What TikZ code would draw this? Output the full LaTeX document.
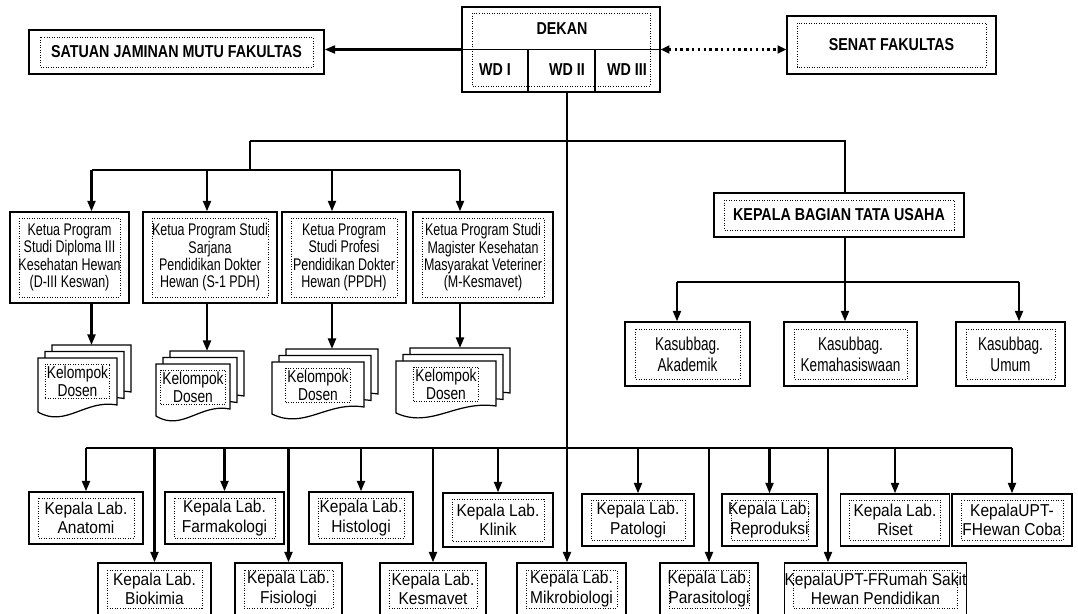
\documentclass[tikz,border=0pt]{standalone}
\usepackage{fontspec}
\setmainfont{Liberation Sans}
\newfontfamily\labfont[FakeStretch=0.9]{Liberation Sans}
\newfontfamily\progfont[FakeStretch=0.74]{Liberation Sans}
\newfontfamily\subfont[FakeStretch=0.73]{Liberation Sans}
\newfontfamily\docfont[FakeStretch=0.8]{Liberation Sans}
\newfontfamily\headfont[FakeStretch=0.83]{Liberation Sans}
\usetikzlibrary{arrows.meta,calc}

\tikzset{
  kotak/.style 2 args={draw, line width=0.7pt, fill=white, inner sep=0pt, align=center,
    minimum width=#1*0.02cm, minimum height=#2*0.02cm},
  bingkai/.style 2 args={path picture={\draw[densely dotted, line width=0.45pt]
    ([xshift=#1*0.02cm, yshift=-#2*0.02cm]path picture bounding box.north west) rectangle
    ([xshift=-#1*0.02cm, yshift=#2*0.02cm]path picture bounding box.south east);}},
  judul/.style={font=\headfont\bfseries\fontsize{9.8}{11}\selectfont},
  prodi/.style={font=\progfont\fontsize{9.6}{9.9}\selectfont},
  sub/.style={font=\subfont\fontsize{10.6}{11.9}\selectfont},
  lab/.style={font=\labfont\fontsize{9.8}{10.9}\selectfont},
  kelompok/.style={draw, densely dotted, line width=0.45pt, inner sep=1pt, align=center,
    font=\docfont\fontsize{9.8}{10.2}\selectfont},
  halaman/.style={draw, fill=white, line width=0.7pt},
  jalur/.style={line width=1.3pt},
  panah/.style={line width=1.3pt, -{Triangle[length=6pt,width=4.5pt]}},
  dua/.style={line width=1.3pt, dotted, {Triangle[length=5pt,width=4.5pt]}-{Triangle[length=5pt,width=4.5pt]}}
}

% tumpukan dokumen: nama, x, y, lebar, tinggi
\newcommand{\tumpukan}[5]{%
  \foreach \k in {2,1,0}{%
    \begin{scope}[shift={({7*\k},{-6.5*\k})}]
      \filldraw[halaman] (#2,#3) -- ({#2+#4},#3) -- ({#2+#4},{#3+#5-7})
        .. controls ({#2+0.6*#4},{#3+#5-13}) and ({#2+0.35*#4},{#3+#5+16}) .. (#2,{#3+#5}) -- cycle;
    \end{scope}
  }
  \coordinate (#1-atas) at ({#2+14+#4/2},{#3-13});
  \node[kelompok] (#1) at ({#2+#4/2},{#3+23}) {Kelompok\\Dosen};
}

\begin{document}
\begin{tikzpicture}[x=0.02cm,y=-0.02cm]
\useasboundingbox (0,0) rectangle (1078,613);

% Pimpinan
\node[kotak={295}{44}, bingkai={11}{7}, judul] (satuan) at (176.5,52) {SATUAN JAMINAN MUTU FAKULTAS};
\node[kotak={198}{85}, bingkai={10}{6}] (dekan) at (561,49.5) {};
\draw[line width=0.7pt] (dekan.west) -- (dekan.east);
\draw[line width=0.7pt] (528,49.5) -- (528,92);
\draw[line width=0.7pt] (595,49.5) -- (595,92);
\node[judul] (dk) at (562,29) {DEKAN};
\node[judul] (wd1) at (495,70) {WD I};
\node[judul] (wd2) at (567,70) {WD II};
\node[judul] (wd3) at (627,70) {WD III};
\node[kotak={209}{58}, bingkai={10}{7}, judul] (senat) at (891.5,45) {SENAT FAKULTAS};

\draw[panah] (dekan.west) -- (dekan.west -| satuan.east);
\draw[dua] (dekan.east) -- (dekan.east -| senat.west);

% Program studi
\node[kotak={119}{91}, bingkai={9}{6}, prodi] (prodi1) at (69.5,257.5) {Ketua Program\\Studi Diploma III\\Kesehatan Hewan\\(D-III Keswan)};
\node[kotak={134}{91}, bingkai={9}{6}, prodi] (prodi2) at (210,257.5) {Ketua Program Studi\\Sarjana\\Pendidikan Dokter\\Hewan (S-1 PDH)};
\node[kotak={124}{91}, bingkai={9}{6}, prodi] (prodi3) at (344,257.5) {Ketua Program\\Studi Profesi\\Pendidikan Dokter\\Hewan (PPDH)};
\node[kotak={140}{91}, bingkai={9}{6}, prodi] (prodi4) at (483,257.5) {Ketua Program Studi\\Magister Kesehatan\\Masyarakat Veteriner\\(M-Kesmavet)};

% Kelompok dosen
\tumpukan{dosen1}{38}{358}{79}{54}
\tumpukan{dosen2}{156}{364}{74}{52}
\tumpukan{dosen3}{272}{362}{92}{52}
\tumpukan{dosen4}{396}{361}{100}{52}

\draw[panah] (prodi1.south -| dosen1-atas) -- (dosen1-atas);
\draw[panah] (prodi2.south -| dosen2-atas) -- (dosen2-atas);
\draw[panah] (prodi3.south -| dosen3-atas) -- (dosen3-atas);
\draw[panah] (prodi4.south -| dosen4-atas) -- (dosen4-atas);

% Tata usaha
\node[kotak={250}{44}, bingkai={10}{7}, judul] (kbtu) at (839,215) {KEPALA BAGIAN TATA USAHA};
\node[kotak={125}{64}, bingkai={10}{7}, sub] (akademik) at (687.5,354) {Kasubbag.\\Akademik};
\node[kotak={133}{64}, bingkai={10}{7}, sub] (kemahasiswaan) at (850.5,354) {Kasubbag.\\Kemahasiswaan};
\node[kotak={109}{64}, bingkai={10}{7}, sub] (umum) at (1010.5,354) {Kasubbag.\\Umum};

% Laboratorium
\node[kotak={114}{52}, bingkai={9}{6}, lab] (anatomi) at (86,518) {Kepala Lab.\\Anatomi};
\node[kotak={119}{52}, bingkai={9}{6}, lab] (farmakologi) at (224.5,518) {Kepala Lab.\\Farmakologi};
\node[kotak={104}{52}, bingkai={9}{6}, lab] (histologi) at (361,518) {Kepala Lab.\\Histologi};
\node[kotak={110}{54}, bingkai={9}{6}, lab] (klinik) at (498,520) {Kepala Lab.\\Klinik};
\node[kotak={112}{52}, bingkai={9}{6}, lab] (patologi) at (638,520) {Kepala Lab.\\Patologi};
\node[kotak={95}{52}, bingkai={9}{6}, lab] (reproduksi) at (769.5,520) {Kepala Lab.\\Reproduksi};
\node[kotak={109}{52}, bingkai={9}{6}, lab] (riset) at (895,520) {Kepala Lab.\\Riset};
\node[kotak={120}{52}, bingkai={9}{6}, lab] (hewancoba) at (1012,520) {KepalaUPT-\\FHewan Coba};

\node[kotak={113}{52}, bingkai={9}{7}, lab] (biokimia) at (154.5,589) {Kepala Lab.\\Biokimia};
\node[kotak={107}{52}, bingkai={9}{7}, lab] (fisiologi) at (288.5,589) {Kepala Lab.\\Fisiologi};
\node[kotak={106}{52}, bingkai={9}{7}, lab] (kesmavet) at (433,589) {Kepala Lab.\\Kesmavet};
\node[kotak={109}{52}, bingkai={9}{7}, lab] (mikrobiologi) at (571.5,589) {Kepala Lab.\\Mikrobiologi};
\node[kotak={98}{52}, bingkai={9}{7}, lab] (parasitologi) at (709,589) {Kepala Lab.\\Parasitologi};
\node[kotak={181}{52}, bingkai={9}{7}, lab] (rshewan) at (875.5,589) {KepalaUPT-FRumah Sakit\\Hewan Pendidikan};

% Garis komando
\coordinate (batang) at (567,92);
\coordinate (atas-ki) at (250,141);
\coordinate (atas-ka) at (845,141);
\coordinate (prodi-bus) at (250,170);
\coordinate (tu-bus) at (845,282);
\coordinate (tu-ki) at (677,282);
\coordinate (tu-ka) at (1019,282);
\coordinate (lab-bus) at (567,448);
\coordinate (rs) at (828,448);

\draw[panah] (batang) -- (batang |- mikrobiologi.north);
\draw[jalur] (atas-ki) -- (atas-ka) -- (atas-ka |- kbtu.north);
\draw[jalur] (atas-ki) -- (prodi-bus);
\draw[jalur] (prodi-bus -| dosen1-atas) -- (prodi-bus -| dosen4-atas);
\draw[panah] (prodi-bus -| dosen1-atas) -- (prodi1.north -| dosen1-atas);
\draw[panah] (prodi-bus -| dosen2-atas) -- (prodi2.north -| dosen2-atas);
\draw[panah] (prodi-bus -| dosen3-atas) -- (prodi3.north -| dosen3-atas);
\draw[panah] (prodi-bus -| dosen4-atas) -- (prodi4.north -| dosen4-atas);

\draw[panah] (kbtu.south -| tu-bus) -- (tu-bus |- kemahasiswaan.north);
\draw[jalur] (tu-ki) -- (tu-ka);
\draw[panah] (tu-ki) -- (tu-ki |- akademik.north);
\draw[panah] (tu-ka) -- (tu-ka |- umum.north);

\draw[jalur] (anatomi.north |- lab-bus) -- (hewancoba.north |- lab-bus);
\draw[panah] (anatomi.north |- lab-bus) -- (anatomi.north);
\draw[panah] (biokimia.north |- lab-bus) -- (biokimia.north);
\draw[panah] (farmakologi.north |- lab-bus) -- (farmakologi.north);
\draw[panah] (fisiologi.north |- lab-bus) -- (fisiologi.north);
\draw[panah] (histologi.north |- lab-bus) -- (histologi.north);
\draw[panah] (kesmavet.north |- lab-bus) -- (kesmavet.north);
\draw[panah] (klinik.north |- lab-bus) -- (klinik.north);
\draw[panah] (patologi.north |- lab-bus) -- (patologi.north);
\draw[panah] (parasitologi.north |- lab-bus) -- (parasitologi.north);
\draw[panah] (reproduksi.north |- lab-bus) -- (reproduksi.north);
\draw[panah] (rs) -- (rs |- rshewan.north);
\draw[panah] (riset.north |- lab-bus) -- (riset.north);
\draw[panah] (hewancoba.north |- lab-bus) -- (hewancoba.north);
\end{tikzpicture}
\end{document}
